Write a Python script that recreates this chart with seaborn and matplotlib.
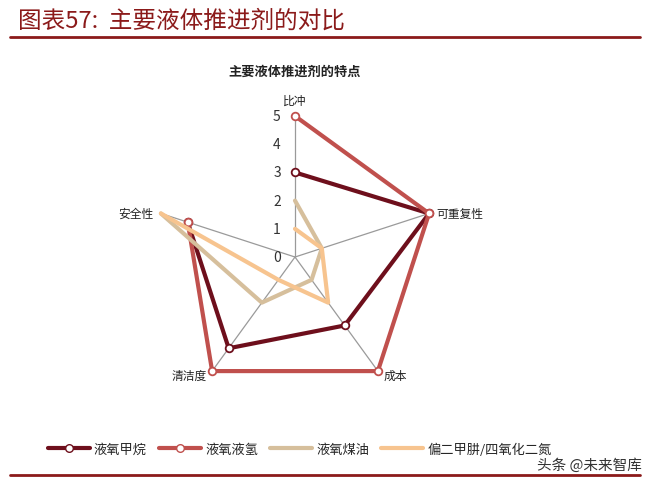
"""Radar chart: main liquid rocket propellants compared."""

import matplotlib
matplotlib.use("Agg")
import matplotlib.pyplot as plt
from matplotlib.lines import Line2D
import numpy as np
import pandas as pd
import seaborn as sns


CATEGORIES = ["比冲", "可重复性", "成本", "清洁度", "安全性"]
SERIES = ["液氧甲烷", "液氧液氢", "液氧煤油", "偏二甲肼/四氧化二氮"]
METHANE = [3, 5, 3, 4, 4]
HYDROGEN = [5, 5, 5, 5, 4]
KEROSENE = [2, 1, 1, 2, 5]
UDMH = [1, 1, 2, 1, 5]
R_TICKS = [0, 1, 2, 3, 4, 5]

COLORS = ["#6e0f1c", "#c0504d", "#d6bf9c", "#f7c48f"]
MARKERS = [True, True, False, False]
DARK_RED = "#8b1a1a"


def build_frame():
    """Long table of (series, angle, value), polygons closed."""
    angles = np.linspace(0, 2 * np.pi, len(CATEGORIES), endpoint=False)
    rows = []
    for name, values in zip(SERIES, [METHANE, HYDROGEN, KEROSENE, UDMH]):
        for a, v in zip(list(angles) + [angles[0]], values + [values[0]]):
            rows.append({"series": name, "angle": a, "value": v})
    return angles, pd.DataFrame(rows)


sns.set_theme(style="white")
plt.rcParams["font.family"] = ["Noto Sans CJK SC", "DejaVu Sans"]

angles, df = build_frame()

fig = plt.figure(figsize=(6.52, 4.85), dpi=100)
ax = fig.add_axes([0.2362, 0.1773, 0.4325, 0.5814], projection="polar")
ax.set_theta_zero_location("N")
ax.set_theta_direction(-1)

for name, color, marker in zip(SERIES, COLORS, MARKERS):
    part = df[df["series"] == name]
    sns.lineplot(
        data=part, x="angle", y="value", ax=ax, sort=False,
        color=color, linewidth=3, legend=False,
        marker="o" if marker else None, markersize=5.5,
        markerfacecolor="white", markeredgecolor=color, markeredgewidth=1.3,
    )
for line in ax.lines:
    line.set_clip_on(False)

ax.set_ylim(0, 5)
ax.set_yticks(R_TICKS)
ax.set_yticklabels([])
ax.yaxis.grid(False)
ax.set_xticks(angles)
ax.set_xticklabels([])
ax.xaxis.grid(True, color="#9a9a9a", linewidth=0.9)
ax.spines["polar"].set_visible(False)
ax.set_xlabel("")
ax.set_ylabel("")
ax.patch.set_alpha(0)

for r in R_TICKS:
    ax.annotate(str(r), xy=(0, r), xytext=(-13, 0), textcoords="offset points",
                ha="center", va="center", fontsize=10, color="#333333")

label_specs = [
    (0, 7, "center", "bottom"),
    (5, 0, "left", "center"),
    (4, -3, "left", "center"),
    (-4, -3, "right", "center"),
    (-5, 0, "right", "center"),
]
for a, cat, (dx, dy, ha, va) in zip(angles, CATEGORIES, label_specs):
    ax.annotate(cat, xy=(a, 5), xytext=(dx, dy), textcoords="offset points",
                ha=ha, va=va, fontsize=8.5, color="#222222")

fig.text(0.027, 0.957, "图表57:  主要液体推进剂的对比", fontsize=17, color=DARK_RED,
         ha="left", va="center", style="italic")
fig.add_artist(Line2D([0.015, 0.982], [0.921, 0.921], color=DARK_RED, linewidth=2))
fig.add_artist(Line2D([0.015, 0.982], [0.018, 0.018], color=DARK_RED, linewidth=2))
fig.text(0.4525, 0.852, "主要液体推进剂的特点", fontsize=9.5, fontweight="bold",
         ha="center", va="center", color="#222222")

handles = [
    Line2D([], [], color=c, linewidth=3, marker="o" if m else None, markersize=5.5,
           markerfacecolor="white", markeredgecolor=c)
    for c, m in zip(COLORS, MARKERS)
]
fig.legend(handles, SERIES, loc="center left", bbox_to_anchor=(0.055, 0.072),
           ncol=4, frameon=False, fontsize=9.5, handlelength=3.2, columnspacing=0.9,
           handletextpad=0.3)

fig.text(0.985, 0.04, "头条 @未来智库", fontsize=10.5, ha="right", va="center",
         color="#333333")

fig.savefig("out.png", dpi=100)
